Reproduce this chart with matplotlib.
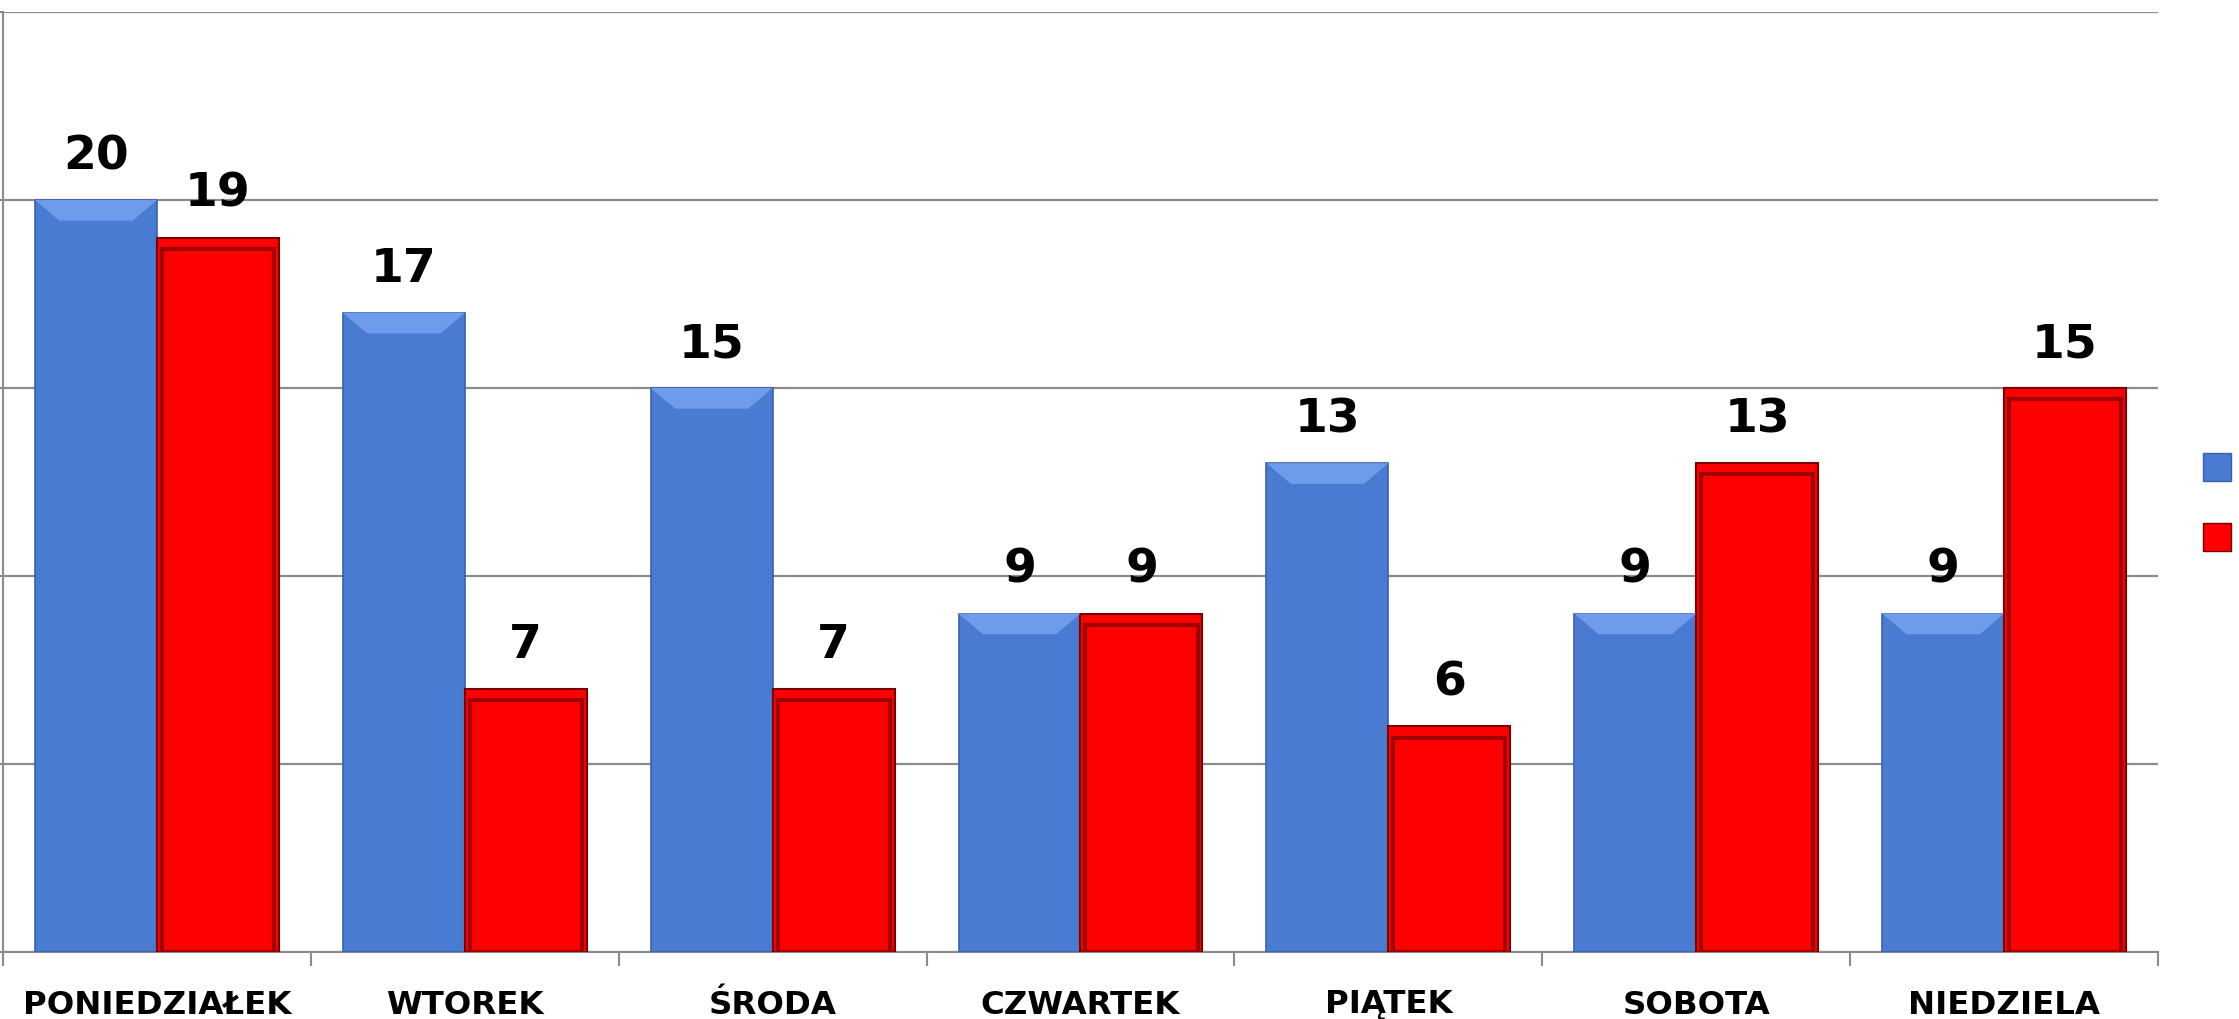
import matplotlib
matplotlib.use("Agg")
import matplotlib.pyplot as plt
import numpy as np
from matplotlib.patches import Rectangle
from matplotlib.lines import Line2D

categories = ["PONIEDZIAŁEK", "WTOREK", "ŚRODA", "CZWARTEK", "PIĄTEK", "SOBOTA", "NIEDZIELA"]
series_blue = [20, 17, 15, 9, 13, 9, 9]
series_red = [19, 7, 7, 9, 6, 13, 15]

fig = plt.figure(figsize=(22.39, 10.19), dpi=100)
ax = fig.add_axes([3/2239, 1-952/1019, (2158-3)/2239, (952-12)/1019])

x = np.arange(len(categories))
w = 0.396
blue = "#4A7BD2"
red = "#FF0000"

bb = ax.bar(x - w/2, series_blue, width=w, color=blue, edgecolor="#3A62A8", linewidth=1.2, zorder=3)
br = ax.bar(x + w/2, series_red, width=w, color=red, edgecolor="#7A0000", linewidth=1.5, zorder=3)

# bevel effect on red bars (inner darker frame)
for r in br:
    x0, y0 = r.get_x(), r.get_y()
    ww, hh = r.get_width(), r.get_height()
    ax.add_patch(Rectangle((x0 + ww*0.04, y0), ww*0.92, hh - 0.3, fill=False,
                           edgecolor="#A00000", linewidth=3, zorder=4))
# lighter top on blue bars
for r in bb:
    x0 = r.get_x(); ww = r.get_width(); hh = r.get_height()
    ax.fill([x0, x0 + ww, x0 + ww*0.8, x0 + ww*0.2], [hh, hh, hh - 0.55, hh - 0.55],
            color="#6E9BEA", zorder=4, linewidth=0)

for xi, v in zip(x - w/2, series_blue):
    ax.text(xi, v + 0.55, str(v), ha="center", va="bottom", fontsize=34, fontweight="bold", zorder=5)
for xi, v in zip(x + w/2, series_red):
    ax.text(xi, v + 0.55, str(v), ha="center", va="bottom", fontsize=34, fontweight="bold", zorder=5)

ax.set_xlim(-0.5, len(categories) - 0.5)
ax.set_ylim(0, 25)
ax.set_yticks([0, 5, 10, 15, 20, 25])
ax.set_yticklabels([])
ax.yaxis.grid(True, color="#8C8C8C", linewidth=1.6, zorder=0)
ax.set_axisbelow(True)
ax.tick_params(axis="y", length=5, color="#8C8C8C", width=1.5)

ax.set_xticks(x)
ax.set_xticklabels(categories, fontsize=23.3, fontweight="bold")
ax.set_xticks(np.arange(len(categories) + 1) - 0.5, minor=True)
ax.tick_params(axis="x", which="major", length=0, pad=27)
ax.tick_params(axis="x", which="minor", length=10, color="#8C8C8C", width=1.5)

for s in ["top", "right"]:
    ax.spines[s].set_visible(False)
ax.spines["left"].set_color("#8C8C8C")
ax.spines["left"].set_linewidth(1.5)
ax.spines["bottom"].set_color("#8C8C8C")
ax.spines["bottom"].set_linewidth(1.5)

h1 = Line2D([], [], marker="s", linestyle="none", markersize=20, markerfacecolor=blue, markeredgecolor="#3A62A8")
h2 = Line2D([], [], marker="s", linestyle="none", markersize=20, markerfacecolor=red, markeredgecolor="#7A0000")
fig.legend([h1, h2], ["", ""], loc="center", bbox_to_anchor=(2217/2239, 1-503/1019),
           frameon=False, labelspacing=4.0, handletextpad=0, handlelength=1.2)

fig.savefig("out.png", dpi=100)
